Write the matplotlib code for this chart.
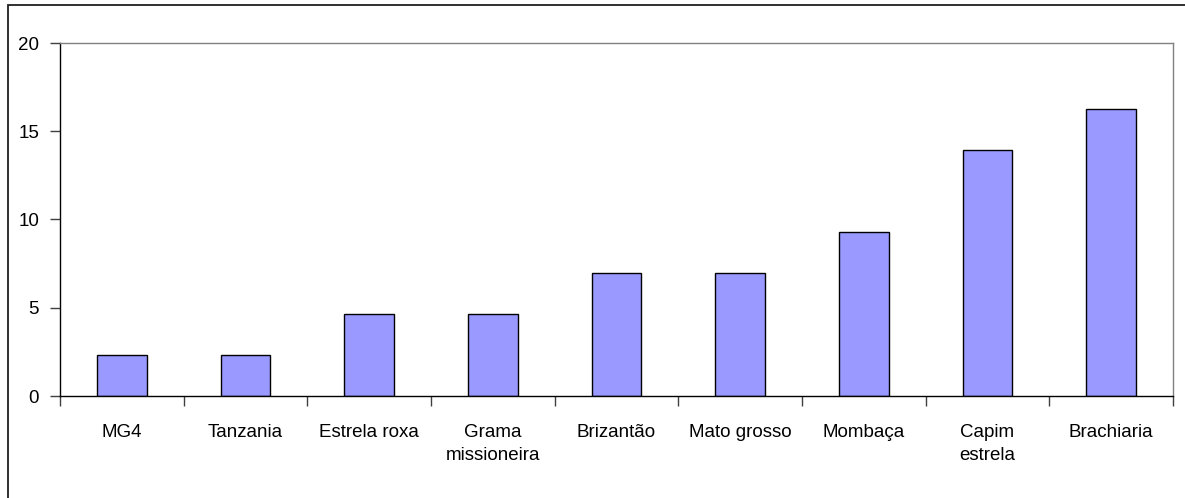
import matplotlib
matplotlib.use("Agg")
import matplotlib.pyplot as plt
import numpy as np
from matplotlib.lines import Line2D

# Categories and values per grass variety
grasses = ["MG4", "Tanzania", "Estrela roxa", "Grama\nmissioneira", "Brizantão",
           "Mato grosso", "Mombaça", "Capim\nestrela", "Brachiaria"]
values = [2.33, 2.33, 4.65, 4.65, 6.98, 6.98, 9.30, 13.95, 16.28]
y_ticks = [0, 5, 10, 15, 20]

W, H = 1185, 498
plt.rcParams["font.family"] = ["Liberation Sans", "DejaVu Sans"]

fig = plt.figure(figsize=(W / 100, H / 100), dpi=100)

# Outer chart frame: only the left and top edges fall inside the image
fx0, fy0 = 7.5 / W, (H - 5.5) / H
fig.lines.append(Line2D([fx0, fx0, 1.05], [-0.05, fy0, fy0], transform=fig.transFigure,
                        color="#202020", linewidth=1.3, solid_joinstyle="miter",
                        solid_capstyle="butt"))

ax = fig.add_axes([60 / W, (H - 396) / H, (1173 - 60) / W, (396 - 43) / H])

x = np.arange(len(grasses))
ax.bar(x, values, width=0.4, color="#9999FF", edgecolor="black", linewidth=1.0, zorder=2)

ax.set_xlim(-0.5, len(grasses) - 0.5)
ax.set_ylim(0, 20)
ax.set_yticks(y_ticks)
ax.set_yticklabels([str(t) for t in y_ticks])

# Category labels centered, ticks at category boundaries
ax.set_xticks(x)
ax.set_xticklabels(grasses, va="top", linespacing=1.5)
ax.tick_params(axis="x", which="major", length=0, pad=20, labelsize=13.5)
ax.set_xticks(np.arange(-0.5, len(grasses), 1.0), minor=True)
ax.tick_params(axis="x", which="minor", length=7, width=1, direction="out", color="#404040")
ax.tick_params(axis="y", length=7, width=1, direction="out", pad=8, labelsize=13.5, color="#404040")

for side in ["left", "bottom"]:
    ax.spines[side].set_color("black")
    ax.spines[side].set_linewidth(1.0)
for side in ["top", "right"]:
    ax.spines[side].set_color("#808080")
    ax.spines[side].set_linewidth(1.0)

fig.savefig("out.png", dpi=100)
